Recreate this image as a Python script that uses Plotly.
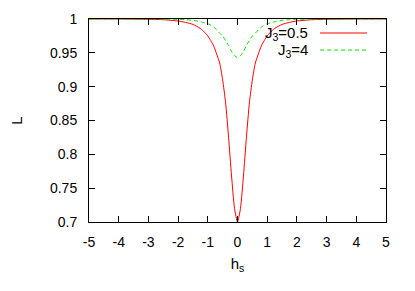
import plotly.graph_objects as go

# h_s values
h_s = [-5, -4, -3, -2.5, -2, -1.75, -1.5, -1.25, -1.1, -1.0, -0.9, -0.8, -0.7, -0.6, -0.5,
       -0.4, -0.3, -0.2, -0.1, 0,
       0.1, 0.2, 0.3, 0.4, 0.5, 0.6, 0.7, 0.8, 0.9, 1.0, 1.1, 1.25, 1.5, 1.75, 2, 2.5, 3, 4, 5]

# L for J3 = 0.5
L_j05 = [1.000, 1.000, 0.9995, 0.999, 0.997, 0.995, 0.992, 0.986, 0.980, 0.975, 0.968, 0.960,
         0.948, 0.935, 0.910, 0.876, 0.825, 0.768, 0.720, 0.700,
         0.720, 0.768, 0.825, 0.876, 0.910, 0.935, 0.948, 0.960, 0.968, 0.975, 0.980, 0.986,
         0.992, 0.995, 0.997, 0.999, 0.9995, 1.000, 1.000]

# L for J3 = 4
L_j4 = [1.000, 1.000, 1.000, 0.9998, 0.9995, 0.999, 0.998, 0.996, 0.994, 0.993, 0.991, 0.988,
        0.984, 0.979, 0.975, 0.968, 0.961, 0.952, 0.946, 0.943,
        0.946, 0.952, 0.961, 0.968, 0.975, 0.979, 0.984, 0.988, 0.991, 0.993, 0.994, 0.996,
        0.998, 0.999, 0.9995, 0.9998, 1.000, 1.000, 1.000]

series_names = ["J<sub>3</sub>=0.5", "J<sub>3</sub>=4"]

x_ticks = [-5, -4, -3, -2, -1, 0, 1, 2, 3, 4, 5]
x_tick_text = ["-5", "-4", "-3", "-2", "-1", "0", "1", "2", "3", "4", "5"]
y_ticks = [0.7, 0.75, 0.8, 0.85, 0.9, 0.95, 1]
y_tick_text = ["0.7", "0.75", "0.8", "0.85", "0.9", "0.95", "1"]

FONT = "Liberation Sans, Arial, Helvetica, sans-serif"
RED = "#ff0000"
GREEN = "#00e000"

fig = go.Figure()
fig.add_trace(go.Scatter(x=h_s, y=L_j05, mode="lines", name=series_names[0],
                         line=dict(color=RED, width=1, shape="spline", smoothing=0.6),
                         showlegend=False))
fig.add_trace(go.Scatter(x=h_s, y=L_j4, mode="lines", name=series_names[1],
                         line=dict(color=GREEN, width=1, dash="4px,3px", shape="spline",
                                   smoothing=0.6),
                         showlegend=False))

# gnuplot-style key: text on the left, sample line on the right
key_rows = [(0.931, RED, "solid"), (0.847, GREEN, "4px,3px")]
for name, (yp, col, dash) in zip(series_names, key_rows):
    fig.add_annotation(x=0.744, y=yp, xref="paper", yref="paper", text=name,
                       showarrow=False, xanchor="right", yanchor="middle",
                       font=dict(family=FONT, size=15, color="black"))
    fig.add_shape(type="line", xref="paper", yref="paper", x0=0.778, x1=0.936,
                  y0=yp, y1=yp, line=dict(color=col, width=1, dash=dash))

axis_common = dict(showgrid=False, zeroline=False, showline=True, linecolor="black",
                   linewidth=1, mirror="allticks", ticks="inside", ticklen=6,
                   tickcolor="black", tickwidth=1, automargin=False,
                   tickfont=dict(family=FONT, size=14, color="black"))

fig.update_xaxes(range=[-5, 5], tickvals=x_ticks, ticktext=x_tick_text, ticklabelstandoff=7,
                 **axis_common,
                 title=dict(text="h<sub>s</sub>", font=dict(family=FONT, size=15, color="black"),
                            standoff=9))
fig.update_yaxes(range=[0.7, 1], tickvals=y_ticks, ticktext=y_tick_text, ticklabelstandoff=8,
                 **axis_common,
                 title=dict(text="L", font=dict(family=FONT, size=15, color="black"),
                            standoff=29))

# page body adds an 8px offset, so the figure is 8px smaller and margins shifted
fig.update_layout(width=407, height=283, margin=dict(l=81, r=29, t=11, b=69),
                  paper_bgcolor="white", plot_bgcolor="white",
                  font=dict(family=FONT, size=14, color="black"))

fig.write_html("out.html")
